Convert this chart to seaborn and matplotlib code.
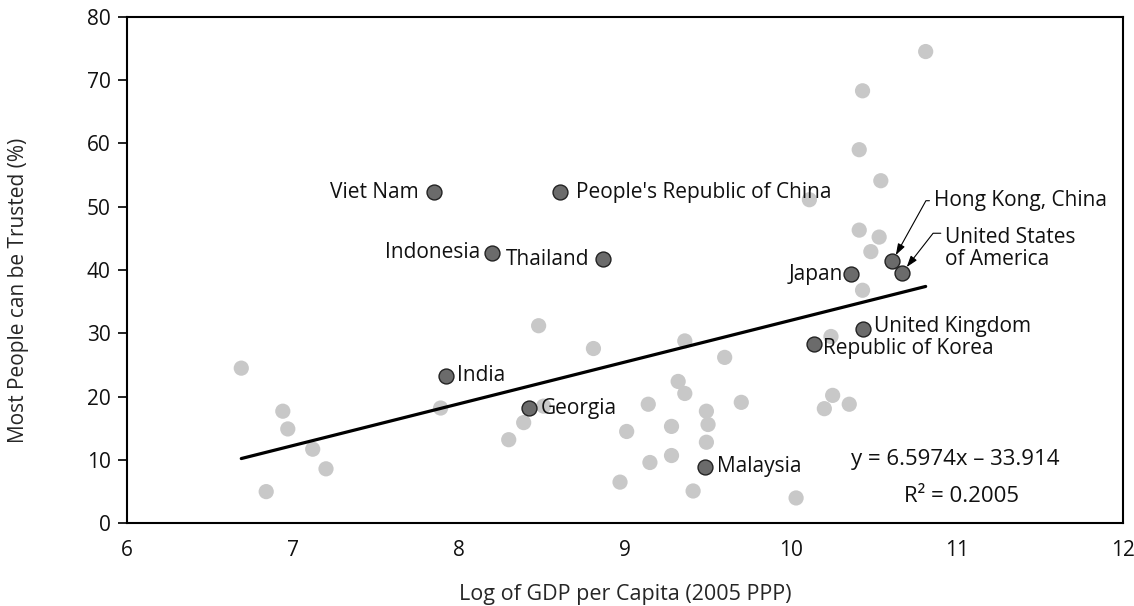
import matplotlib
matplotlib.use("Agg")
import matplotlib.pyplot as plt
import numpy as np
import pandas as pd
import seaborn as sns

# Other economies (unlabelled grey points)
other_gdp = [6.69, 6.94, 6.97, 7.12, 7.20, 6.84, 7.89, 8.48, 8.81, 9.36, 9.60,
             9.32, 9.36, 9.70, 9.14, 9.49, 9.50, 9.28, 9.01, 9.49, 9.28, 9.15,
             8.97, 9.41, 10.03, 8.39, 8.30, 8.51, 10.24, 10.25, 10.20, 10.35,
             10.43, 10.11, 10.81, 10.43, 10.41, 10.54, 10.41, 10.53, 10.48]
other_trust = [24.5, 17.7, 14.9, 11.7, 8.6, 5.0, 18.2, 31.2, 27.6, 28.8, 26.2,
               22.4, 20.5, 19.1, 18.8, 17.7, 15.6, 15.3, 14.5, 12.8, 10.7, 9.6,
               6.5, 5.1, 4.0, 15.9, 13.2, 18.5, 29.5, 20.2, 18.1, 18.8,
               36.8, 51.1, 74.5, 68.3, 59.0, 54.1, 46.3, 45.2, 42.9]

# Highlighted economies
countries = ["Viet Nam", "People's Republic of China", "Indonesia", "Thailand",
             "Japan", "Hong Kong, China", "United States\nof America",
             "United Kingdom", "Republic of Korea", "India", "Georgia", "Malaysia"]
country_gdp = [7.85, 8.61, 8.20, 8.87, 10.36, 10.61, 10.67, 10.43, 10.14,
               7.92, 8.42, 9.48]
country_trust = [52.3, 52.3, 42.7, 41.7, 39.3, 41.4, 39.6, 30.7, 28.3,
                 23.3, 18.2, 8.9]

# Linear fit as reported
slope = 6.5974
intercept = -33.914
r_squared = 0.2005

x_ticks = [6, 7, 8, 9, 10, 11, 12]
y_ticks = [0, 10, 20, 30, 40, 50, 60, 70, 80]

others = pd.DataFrame({"gdp": other_gdp, "trust": other_trust})
labelled = pd.DataFrame({"country": countries, "gdp": country_gdp,
                         "trust": country_trust})
all_x = np.array(other_gdp + country_gdp)
fit = pd.DataFrame({"gdp": [all_x.min(), all_x.max()]})
fit["trust"] = slope * fit["gdp"] + intercept

sns.set_theme(style="white")
plt.rcParams["font.family"] = ["Open Sans", "DejaVu Sans"]
plt.rcParams["text.color"] = "#111111"

fig = plt.figure(figsize=(11.34, 6.06), dpi=100)
ax = fig.add_axes([0.1117, 0.1365, 0.8789, 0.8359])

sns.scatterplot(data=others, x="gdp", y="trust", ax=ax, s=120,
                color="#c8c8c8", edgecolor="none", linewidth=0, zorder=2)
sns.lineplot(data=fit, x="gdp", y="trust", ax=ax, color="black",
             linewidth=2.3, zorder=3)
sns.scatterplot(data=labelled, x="gdp", y="trust", ax=ax, s=115,
                color="#6b6b6b", edgecolor="#222222", linewidth=1.0, zorder=4)

# label offsets in points relative to each point
label_style = {
    "Viet Nam": ((-11, 0), "right", "center"),
    "People's Republic of China": ((11.5, 0), "left", "center"),
    "Indonesia": ((-8.5, 0), "right", "center"),
    "Thailand": ((-10, 0), "right", "center"),
    "Japan": ((-5.5, 0), "right", "center"),
    "United Kingdom": ((8.5, 1.5), "left", "center"),
    "Republic of Korea": ((6, -3.5), "left", "center"),
    "India": ((8.5, 0), "left", "center"),
    "Georgia": ((8.5, 0), "left", "center"),
    "Malaysia": ((9, 0), "left", "center"),
}
fs = 15
for name, gx, ty in zip(countries, country_gdp, country_trust):
    if name in label_style:
        (dx, dy), ha, va = label_style[name]
        ax.annotate(name, (gx, ty), xytext=(dx, dy), textcoords="offset points",
                    ha=ha, va=va, fontsize=fs, zorder=5)

# leader-line labels
hk = countries.index("Hong Kong, China")
ax.annotate(countries[hk], (country_gdp[hk], country_trust[hk]),
            xytext=(30, 43.5), textcoords="offset points", ha="left",
            va="center", fontsize=fs, zorder=5,
            arrowprops=dict(arrowstyle="-|>,head_length=0.45,head_width=0.15",
                            color="black", lw=0.8, shrinkA=1, shrinkB=5,
                            relpos=(0, 0.5),
                            connectionstyle="angle,angleA=180,angleB=61,rad=0"))
us = countries.index("United States\nof America")
ax.annotate(countries[us], (country_gdp[us], country_trust[us]),
            xytext=(31, 17.5), textcoords="offset points", ha="left",
            va="center", fontsize=fs, linespacing=1.05, zorder=5,
            arrowprops=dict(arrowstyle="-|>,head_length=0.45,head_width=0.15",
                            color="black", lw=0.8, shrinkA=1, shrinkB=5,
                            relpos=(0, 0.85),
                            connectionstyle="angle,angleA=180,angleB=52,rad=0"))

ax.text(0.831, 0.125, f"y = {slope}x \u2013 {abs(intercept)}",
        transform=ax.transAxes, ha="center", va="center", fontsize=16)
ax.text(0.838, 0.0525, f"R\u00b2 = {r_squared}", transform=ax.transAxes,
        ha="center", va="center", fontsize=16)

ax.set_xlim(6, 12)
ax.set_ylim(0, 80)
ax.set_xticks(x_ticks)
ax.set_yticks(y_ticks)
ax.tick_params(axis="y", length=6.5, width=1.3, direction="out", pad=5,
               labelsize=fs, left=True, colors="#111111")
ax.tick_params(axis="x", length=0, pad=12, labelsize=fs, colors="#111111")
for sp in ax.spines.values():
    sp.set_visible(True)
    sp.set_color("black")
    sp.set_linewidth(1.5)

ax.set_xlabel("Log of GDP per Capita (2005 PPP)", fontsize=15.5)
ax.set_ylabel("Most People can be Trusted (%)", fontsize=15)
ax.xaxis.set_label_coords(0.5, -0.14)
ax.yaxis.set_label_coords(-0.109, 0.46)
ax.xaxis.label.set_va("center")
ax.yaxis.label.set_va("center")

fig.savefig("out.png", dpi=100)
